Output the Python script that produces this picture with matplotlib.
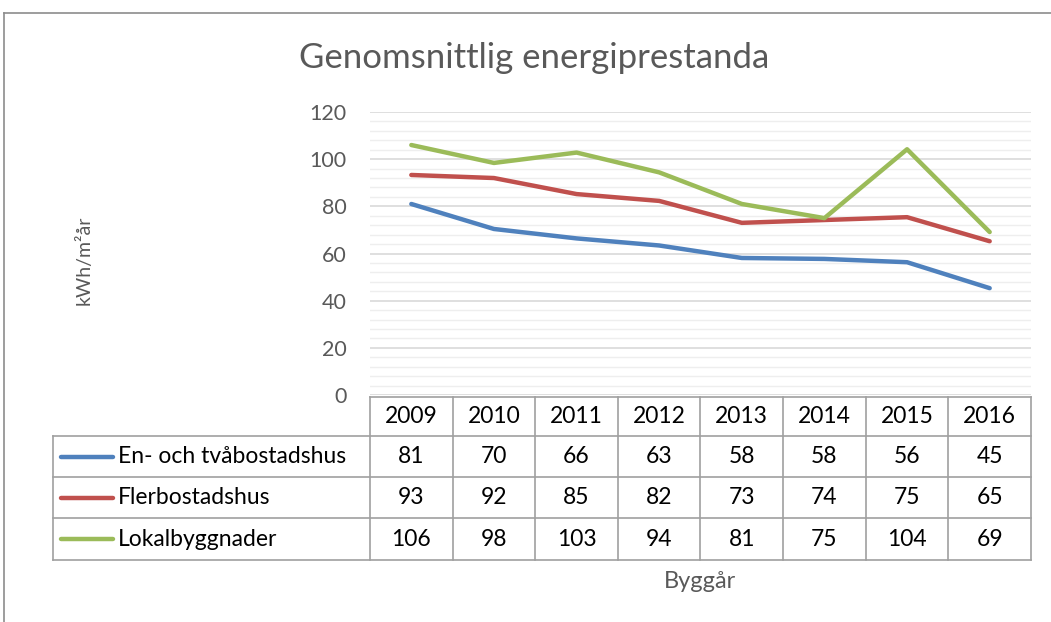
import matplotlib.pyplot as plt
from matplotlib.lines import Line2D

years = ['2009', '2010', '2011', '2012', '2013', '2014', '2015', '2016']
series = ['En- och tvåbostadshus', 'Flerbostadshus', 'Lokalbyggnader']
en_tva = [81.0, 70.4, 66.4, 63.4, 58.1, 57.7, 56.3, 45.3]
fler = [93.3, 92.0, 85.2, 82.3, 73.0, 74.2, 75.4, 65.2]
lokal = [106.0, 98.4, 102.8, 94.4, 81.0, 75.0, 104.2, 69.1]
colors = ['#4f81bd', '#c0504d', '#9bbb59']

W, H = 1051, 622
plt.rcParams['font.family'] = ['Lato', 'DejaVu Sans']
fig = plt.figure(figsize=(W / 100, H / 100), dpi=100)


def fx(px):
    return px / W


def fy(py):
    return 1 - py / H


# outer chart frame
fig.add_artist(Line2D([fx(4), 1], [fy(13), fy(13)], color='#8c8c8c', lw=1.2))
fig.add_artist(Line2D([fx(4), fx(4)], [fy(13), 0], color='#8c8c8c', lw=1.2))

left, right, top, bottom = 370, 1031, 112, 395
ax = fig.add_axes([fx(left), fy(bottom), fx(right - left), (bottom - top) / H])

x = range(len(years))
for vals, c in zip([en_tva, fler, lokal], colors):
    ax.plot(x, vals, color=c, lw=3.2, solid_capstyle='round', zorder=3)

ax.set_xlim(-0.5, len(years) - 0.5)
ax.set_ylim(0, 120)
ax.set_yticks(range(0, 121, 20))
ax.set_yticks(range(0, 121, 4), minor=True)
ax.grid(axis='y', which='major', color='#d9d9d9', lw=1.2)
ax.grid(axis='y', which='minor', color='#eeeeee', lw=1.0)
ax.set_xticks([])
for s in ax.spines.values():
    s.set_visible(False)
ax.tick_params(axis='y', which='both', length=0, labelsize=15.5, labelcolor='#595959', pad=17)
ax.set_facecolor('none')

fig.text(fx(534), fy(58), 'Genomsnittlig energiprestanda', ha='center', va='center',
         fontsize=25, color='#595959')
fig.text(fx(84), fy(260), 'kWh/m²år', rotation=90, ha='center', va='center',
         fontsize=14, color='#595959')
fig.text(fx(700), fy(581), 'Byggår', ha='center', va='center', fontsize=17, color='#595959')

# data table
gc = '#a0a0a0'
col_w = (right - left) / len(years)
rows_y = [397, 436, 477, 518, 560]
leg_left = 53
# horizontal lines
fig.add_artist(Line2D([fx(left), fx(right)], [fy(rows_y[0])] * 2, color=gc, lw=1.2))
for ry in rows_y[1:]:
    fig.add_artist(Line2D([fx(leg_left), fx(right)], [fy(ry)] * 2, color=gc, lw=1.2))
# vertical lines
for i in range(len(years) + 1):
    xx = left + i * col_w
    fig.add_artist(Line2D([fx(xx)] * 2, [fy(rows_y[0]), fy(rows_y[-1])], color=gc, lw=1.2))
fig.add_artist(Line2D([fx(leg_left)] * 2, [fy(rows_y[1]), fy(rows_y[-1])], color=gc, lw=1.2))

tsize = 16.5
for i, yr in enumerate(years):
    fig.text(fx(left + (i + 0.5) * col_w), fy((rows_y[0] + rows_y[1]) / 2), yr,
             ha='center', va='center', fontsize=tsize, color='black')

for r, (name, vals, c) in enumerate(zip(series, [en_tva, fler, lokal], colors)):
    cy = fy((rows_y[r + 1] + rows_y[r + 2]) / 2)
    fig.add_artist(Line2D([fx(61), fx(113)], [cy, cy], color=c, lw=3.2, solid_capstyle='round'))
    fig.text(fx(118), cy, name, ha='left', va='center', fontsize=tsize, color='black')
    for i, v in enumerate(vals):
        fig.text(fx(left + (i + 0.5) * col_w), cy, str(int(round(v))),
                 ha='center', va='center', fontsize=tsize, color='black')

fig.savefig('out.png', dpi=100)
